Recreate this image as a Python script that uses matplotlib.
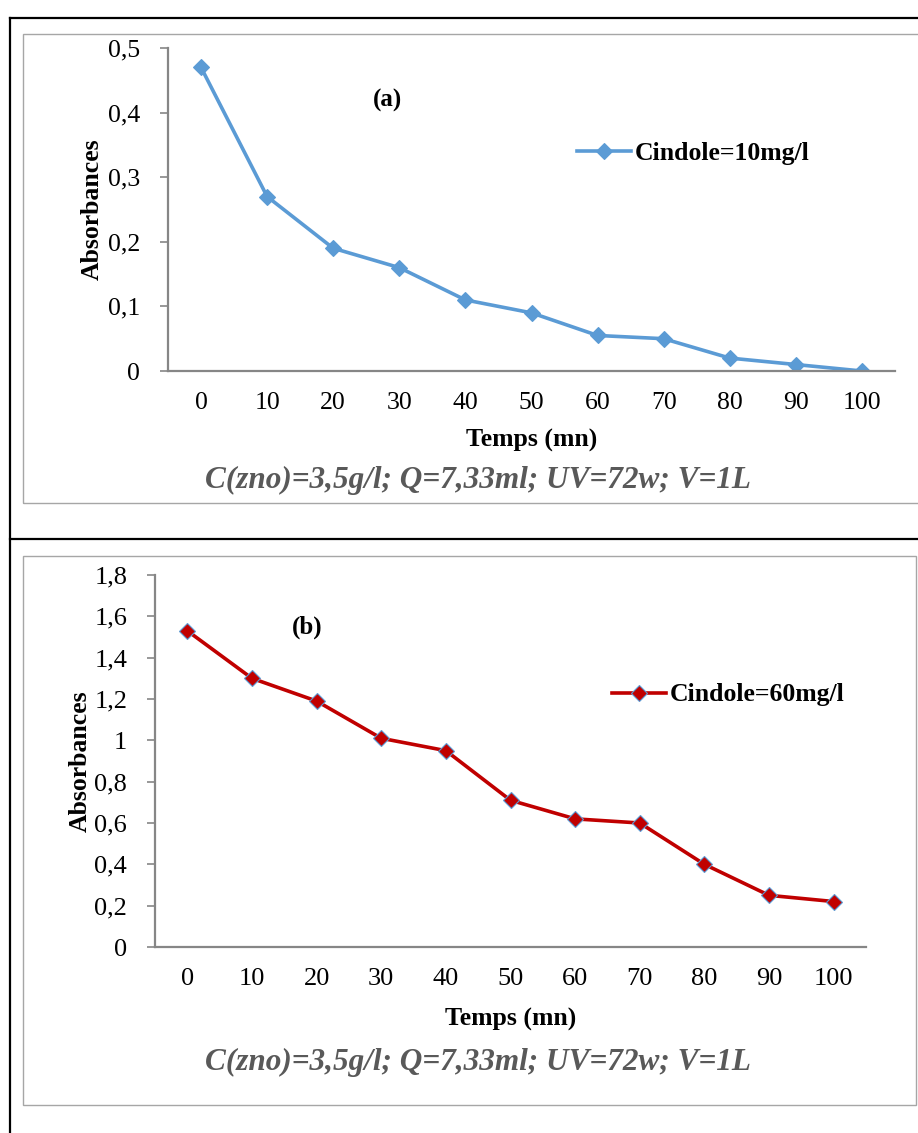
import numpy as np
import matplotlib
matplotlib.use("Agg")
import matplotlib.pyplot as plt
from matplotlib.lines import Line2D
from matplotlib.patches import Rectangle

# data
temps = ["0", "10", "20", "30", "40", "50", "60", "70", "80", "90", "100"]
abs_10 = [0.47, 0.27, 0.19, 0.16, 0.11, 0.09, 0.055, 0.05, 0.02, 0.01, 0.0]
abs_60 = [1.53, 1.30, 1.19, 1.01, 0.95, 0.71, 0.62, 0.60, 0.40, 0.25, 0.22]
yticks_a = [0, 0.1, 0.2, 0.3, 0.4, 0.5]
yticks_b = [0, 0.2, 0.4, 0.6, 0.8, 1.0, 1.2, 1.4, 1.6, 1.8]
caption = "C(zno)=3,5g/l; Q=7,33ml; UV=72w; V=1L"

W, H = 918, 1133
plt.rcParams['font.family'] = ['Liberation Serif', 'DejaVu Serif']

fig = plt.figure(figsize=(W / 100, H / 100), dpi=100)


def fx(px):
    return px / W


def fy(py):
    return 1 - py / H


def fmt(v):
    s = ("%.1f" % v).rstrip("0").rstrip(".")
    return s.replace(".", ",")


# table frame (black) and chart boxes (gray)
for xs, ys in [((10, 918), (18, 18)), ((10, 10), (18, 1133)), ((10, 918), (539, 539))]:
    fig.add_artist(Line2D([fx(x) for x in xs], [fy(y) for y in ys], color="black", lw=1.6))
fig.add_artist(Rectangle((fx(23), fy(503)), fx(1000) - fx(23), fy(34) - fy(503),
                         fill=False, edgecolor="#a6a6a6", lw=1.0))
fig.add_artist(Rectangle((fx(23), fy(1105)), fx(916) - fx(23), fy(556) - fy(1105),
                         fill=False, edgecolor="#a6a6a6", lw=1.0))


def draw(box, values, yticks, ymax, color, mec, label, tag, tagpos, legpos,
         ylab_x, fs, xlpad):
    l, r, b, t = box
    ax = fig.add_axes([fx(l), fy(b), fx(r) - fx(l), fy(t) - fy(b)])
    x = np.arange(len(values))
    ax.plot(x, values, color=color, lw=2.6, marker="D", ms=8,
            markerfacecolor=color, markeredgecolor=mec, markeredgewidth=0.8, label=label)
    ax.set_xlim(-0.5, len(values) - 0.5)
    ax.set_ylim(0, ymax)
    ax.set_xticks(x)
    ax.set_xticklabels(temps, fontsize=fs)
    ax.set_yticks(yticks)
    ax.set_yticklabels([fmt(v) for v in yticks], fontsize=fs)
    ax.tick_params(axis="x", length=0, pad=15)
    ax.tick_params(axis="y", length=6, width=1.2, color="#868686", pad=14)
    for s in ["top", "right"]:
        ax.spines[s].set_visible(False)
    for s in ["left", "bottom"]:
        ax.spines[s].set_color("#868686")
        ax.spines[s].set_linewidth(1.6)
    ax.patch.set_alpha(0)
    ax.set_xlabel("Temps (mn)", fontsize=18.5, fontweight="bold", labelpad=xlpad)
    fig.text(fx(ylab_x), (fy(b) + fy(t)) / 2, "Absorbances", rotation=90,
             fontsize=18.5, fontweight="bold", ha="center", va="center")
    fig.text(fx(tagpos[0]), fy(tagpos[1]), tag, fontsize=18, fontweight="bold",
             ha="center", va="center")
    ax.legend(loc="center left", bbox_to_anchor=(fx(legpos[0]), fy(legpos[1])),
              bbox_transform=fig.transFigure, frameon=False, borderpad=0,
              borderaxespad=0, handlelength=2.1, handletextpad=0.15,
              prop={"size": 18.5, "weight": "bold"})
    return ax


draw((168, 895, 371, 48), abs_10, yticks_a, 0.5, "#5b9bd5", "#5b9bd5",
     "Cindole=10mg/l", "(a)", (387, 100), (577, 153), 92, 18.5, 11)
draw((155, 866, 947, 575), abs_60, yticks_b, 1.8, "#c00000", "#5b9bd5",
     "Cindole=60mg/l", "(b)", (307, 627), (612, 695), 80, 19, 13)

fig.text(fx(478), fy(480), caption, fontsize=22.5, fontweight="bold", style="italic",
         color="#595959", ha="center", va="center")
fig.text(fx(478), fy(1062), caption, fontsize=22.5, fontweight="bold", style="italic",
         color="#595959", ha="center", va="center")

fig.savefig("out.png", dpi=100)
